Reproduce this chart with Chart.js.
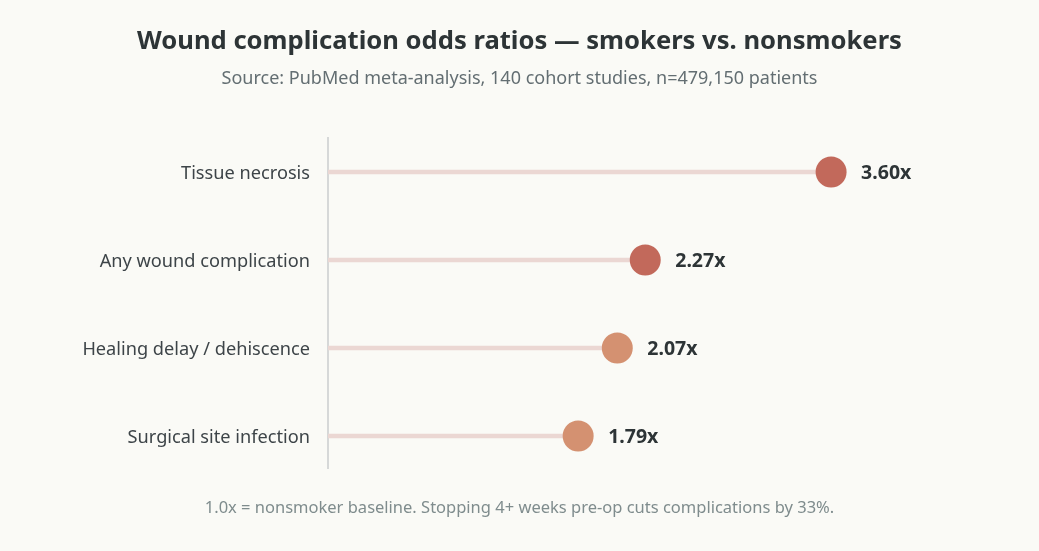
<!DOCTYPE html>
<html>
<head>
<meta charset="utf-8">
<script src="https://cdn.jsdelivr.net/npm/chart.js@4.4.1/dist/chart.umd.min.js"></script>
<style>
  html, body { margin: 0; padding: 0; background: #fafaf6; }
  #wrap { width: 1039px; height: 551px; position: relative; }
</style>
</head>
<body>
<div id="wrap"><canvas id="chart"></canvas></div>
<script>
// Data
const categories = ['Tissue necrosis', 'Any wound complication', 'Healing delay / dehiscence', 'Surgical site infection'];
const oddsRatios = [3.60, 2.27, 2.07, 1.79];
const dotColors = ['#c2695b', '#c2695b', '#d49171', '#d49171'];

const TITLE = 'Wound complication odds ratios \u2014 smokers vs. nonsmokers';
const SUBTITLE = 'Source: PubMed meta-analysis, 140 cohort studies, n=479,150 patients';
const FOOTER = '1.0x = nonsmoker baseline. Stopping 4+ weeks pre-op cuts complications by 33%.';

const FONT = '"Noto Sans", "Open Sans", sans-serif';

// Texts, axis line and value labels
const decorPlugin = {
    id: 'decor',
    beforeDatasetsDraw(chart) {
        const { ctx, chartArea } = chart;
        ctx.save();
        ctx.strokeStyle = '#d6d8d8';
        ctx.lineWidth = 2;
        ctx.beginPath();
        ctx.moveTo(chartArea.left, 137);
        ctx.lineTo(chartArea.left, 469);
        ctx.stroke();
        ctx.restore();
    },
    afterDraw(chart) {
        const { ctx } = chart;
        const w = chart.width;
        ctx.save();
        ctx.textAlign = 'center';
        ctx.textBaseline = 'middle';
        ctx.fillStyle = '#2d3436';
        ctx.font = 'bold 25.6px ' + FONT;
        ctx.fillText(TITLE, w / 2, 42);
        ctx.fillStyle = '#636e72';
        ctx.font = '18px ' + FONT;
        ctx.fillText(SUBTITLE, w / 2, 79);
        ctx.fillStyle = '#7f8c8d';
        ctx.font = '16.5px ' + FONT;
        ctx.fillText(FOOTER, w / 2, 508);

        // value labels next to the dots
        const meta = chart.getDatasetMeta(1);
        ctx.textAlign = 'left';
        ctx.fillStyle = '#2d3436';
        ctx.font = 'bold 19.5px ' + FONT;
        meta.data.forEach((pt, i) => {
            ctx.fillText(oddsRatios[i].toFixed(2) + 'x', pt.x + 30, pt.y + 1);
        });
        ctx.restore();
    }
};

const ctx = document.getElementById('chart').getContext('2d');
new Chart(ctx, {
    type: 'bar',
    data: {
        labels: categories,
        datasets: [
            {
                type: 'bar',
                data: oddsRatios,
                backgroundColor: '#ebd7d3',
                barThickness: 4,
                borderSkipped: false,
                order: 2
            },
            {
                type: 'line',
                data: oddsRatios,
                showLine: false,
                pointRadius: 15.5,
                pointHoverRadius: 15.5,
                pointBackgroundColor: dotColors,
                pointBorderWidth: 0,
                order: 1
            }
        ]
    },
    options: {
        indexAxis: 'y',
        responsive: true,
        maintainAspectRatio: false,
        animation: false,
        layout: {
            padding: { top: 128, bottom: 71, right: 152, left: 0 }
        },
        plugins: {
            legend: { display: false },
            tooltip: { enabled: false }
        },
        scales: {
            x: {
                display: false,
                min: 0,
                max: 4
            },
            y: {
                afterFit(scale) { scale.width = 328; },
                grid: { display: false, drawTicks: false },
                border: { display: false },
                ticks: {
                    color: '#3d4448',
                    padding: 18,
                    labelOffset: 2,
                    font: { family: FONT, size: 18.2 }
                }
            }
        }
    },
    plugins: [decorPlugin]
});
</script>
</body>
</html>
